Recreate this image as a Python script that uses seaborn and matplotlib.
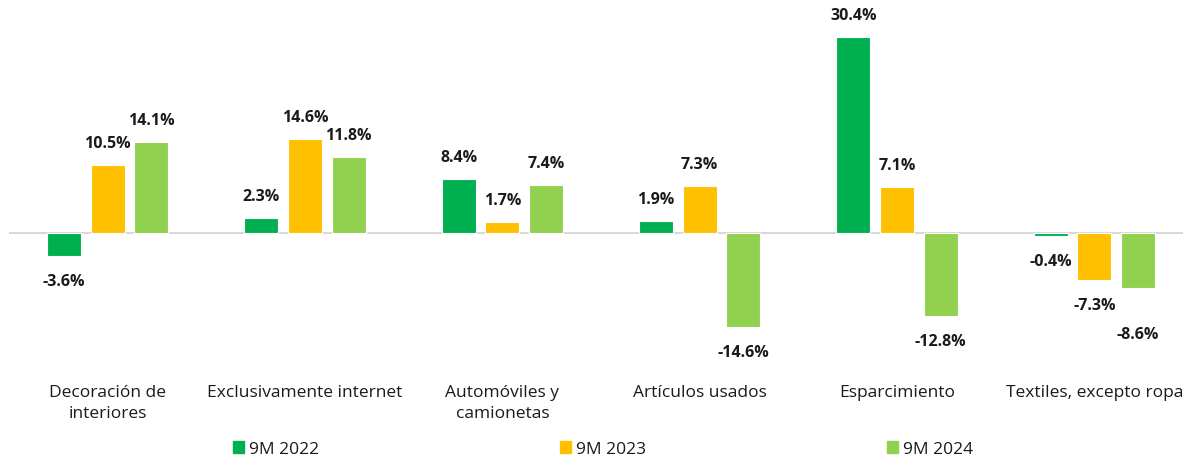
import matplotlib
matplotlib.use("Agg")
import matplotlib.pyplot as plt
import seaborn as sns
import pandas as pd

categories = ["Decoración de\ninteriores", "Exclusivamente internet", "Automóviles y\ncamionetas",
              "Artículos usados", "Esparcimiento", "Textiles, excepto ropa"]
series = ["9M 2022", "9M 2023", "9M 2024"]
v2022 = [-3.6, 2.3, 8.4, 1.9, 30.4, -0.4]
v2023 = [10.5, 14.6, 1.7, 7.3, 7.1, -7.3]
v2024 = [14.1, 11.8, 7.4, -14.6, -12.8, -8.6]
colors = ["#00B050", "#FFC000", "#92D050"]

rows = []
for s, vals in zip(series, [v2022, v2023, v2024]):
    for c, v in zip(categories, vals):
        rows.append({"cat": c, "serie": s, "val": v})
df = pd.DataFrame(rows)

sns.set_theme(style="white")
plt.rcParams["font.family"] = ["Open Sans", "DejaVu Sans"]

W, H = 1183, 460
fig = plt.figure(figsize=(W / 100, H / 100), dpi=100)
ax_top, ax_bot, ax_left, ax_right = 10, 370, 9, 1193
ax = fig.add_axes([ax_left / W, (H - ax_bot) / H, (ax_right - ax_left) / W, (ax_bot - ax_top) / H])

sns.barplot(data=df, x="cat", y="val", hue="serie", palette=colors, order=categories,
            hue_order=series, width=0.662, gap=0.22, ax=ax, legend=False,
            edgecolor="white", linewidth=0.8, saturation=1)

zero_px = 234
scale = 6.45
ax.set_ylim(-(ax_bot - zero_px) / scale, (zero_px - ax_top) / scale)
ax.set_xlim(-0.5, 5.5)
ax.axhline(0, color="#D9D9D9", linewidth=1.5, zorder=0)

# extra downward shift (points) for labels that would otherwise collide
extra_shift = {(2, 5): -15}

for si, cont in enumerate(ax.containers):
    for ci, p in enumerate(cont.patches):
        h = p.get_height()
        xc = p.get_x() + p.get_width() / 2
        if h >= 0:
            off = 16
        else:
            off = -18 + extra_shift.get((si, ci), 0)
        ax.annotate(f"{h:.1f}%", (xc, h), xytext=(0, off), textcoords="offset points",
                    ha="center", va="center", fontsize=11.5, fontweight="bold", color="#1a1a1a")

ax.set_yticks([])
ax.set_xlabel("")
ax.set_ylabel("")
ax.tick_params(axis="x", length=0, pad=10.5, labelsize=12.5, labelcolor="#1a1a1a")
for t in ax.get_xticklabels():
    t.set_linespacing(1.42)
for s in ax.spines.values():
    s.set_visible(False)

handles = [plt.Rectangle((0, 0), 1, 1, color=c) for c in colors]
fig.legend(handles, series, loc="center", bbox_to_anchor=(603 / W, 1 - 450 / H), ncol=3,
           frameon=False, fontsize=12.5, handlelength=0.65, handleheight=0.65,
           handletextpad=0.3, columnspacing=13.85, labelcolor="#1a1a1a")

fig.savefig("out.png", dpi=100)
